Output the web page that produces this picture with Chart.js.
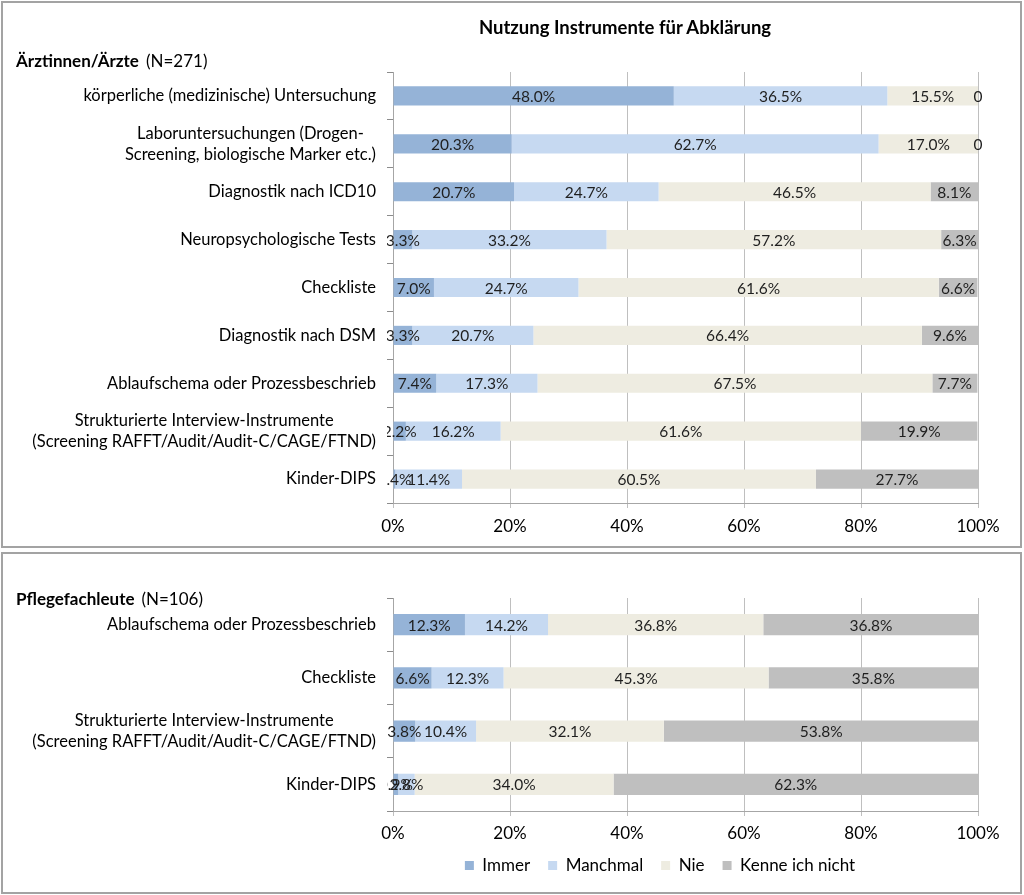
<!DOCTYPE html>
<html>
<head>
<meta charset="utf-8">
<script src="https://cdn.jsdelivr.net/npm/chart.js@4.4.0/dist/chart.umd.min.js"></script>
<style>
  body { margin:0; background:#fff; font-family:Lato, sans-serif; color:#000; }
  .panel { position:absolute; left:1px; width:1021px; border:2px solid #a3a3a3; box-sizing:border-box; }
  .holder { position:absolute; left:0; width:1024px; }
  #title { position:absolute; top:16px; left:0; width:1250px; text-align:center; font-weight:bold; font-size:18.5px; }
  .head { position:absolute; left:16px; font-size:17px; }
  .head b { margin-right:7px; }
</style>
</head>
<body>
<div class="panel" style="top:1px;height:547px"></div>
<div class="panel" style="top:552px;height:342px"></div>
<div class="holder" style="top:0;height:548px"><canvas id="top" width="1024" height="548"></canvas></div>
<div class="holder" style="top:552px;height:342px"><canvas id="bottom" width="1024" height="342"></canvas></div>
<div id="title">Nutzung Instrumente für Abklärung</div>
<div class="head" style="top:50px"><b>Ärztinnen/Ärzte</b>(N=271)</div>
<div class="head" style="top:588px"><b>Pflegefachleute</b>(N=106)</div>
<script>
const seriesNames = ['Immer', 'Manchmal', 'Nie', 'Kenne ich nicht'];
const seriesColors = ['#95b3d7', '#c6d9f1', '#eeece1', '#bfbfbf'];
const xTicks = ['0%', '20%', '40%', '60%', '80%', '100%'];

// Ärztinnen/Ärzte
const aerzteLabels = [
  ['körperliche (medizinische) Untersuchung'],
  ['Laboruntersuchungen (Drogen-', 'Screening, biologische Marker etc.)'],
  ['Diagnostik nach ICD10'],
  ['Neuropsychologische Tests'],
  ['Checkliste'],
  ['Diagnostik nach DSM'],
  ['Ablaufschema oder Prozessbeschrieb'],
  ['Strukturierte Interview-Instrumente', '(Screening RAFFT/Audit/Audit-C/CAGE/FTND)'],
  ['Kinder-DIPS']
];
const aerzteImmer    = [48.0, 20.3, 20.7, 3.3, 7.0, 3.3, 7.4, 2.2, 0.4];
const aerzteManchmal = [36.5, 62.7, 24.7, 33.2, 24.7, 20.7, 17.3, 16.2, 11.4];
const aerzteNie      = [15.5, 17.0, 46.5, 57.2, 61.6, 66.4, 67.5, 61.6, 60.5];
const aerzteKenne    = [0, 0, 8.1, 6.3, 6.6, 9.6, 7.7, 19.9, 27.7];

// Pflegefachleute
const pflegeLabels = [
  ['Ablaufschema oder Prozessbeschrieb'],
  ['Checkliste'],
  ['Strukturierte Interview-Instrumente', '(Screening RAFFT/Audit/Audit-C/CAGE/FTND)'],
  ['Kinder-DIPS']
];
const pflegeImmer    = [12.3, 6.6, 3.8, 0.9];
const pflegeManchmal = [14.2, 12.3, 10.4, 2.8];
const pflegeNie      = [36.8, 45.3, 32.1, 34.0];
const pflegeKenne    = [36.8, 35.8, 53.8, 62.3];

const FONT = 'Lato';

// category labels: block right aligned, lines centred on each other
const catLabels = {
  id: 'catLabels',
  afterDraw(chart) {
    const ctx = chart.ctx, y = chart.scales.y;
    ctx.save();
    ctx.font = '16.5px ' + FONT;
    ctx.fillStyle = '#000';
    ctx.textAlign = 'center';
    ctx.textBaseline = 'middle';
    chart.data.labels.forEach((lines, i) => {
      const yc = y.getPixelForTick(i);
      const w = Math.max(...lines.map(l => ctx.measureText(l).width));
      const cx = 376 - w / 2;
      const lh = 21;
      lines.forEach((l, k) => ctx.fillText(l, cx, yc + (k - (lines.length - 1) / 2) * lh));
    });
    ctx.restore();
  }
};

// value labels in the middle of each segment
const valLabels = {
  id: 'valLabels',
  afterDatasetsDraw(chart) {
    const ctx = chart.ctx, a = chart.chartArea;
    ctx.save();
    ctx.beginPath();
    ctx.rect(a.left - 6, a.top, a.right - a.left + 30, a.bottom - a.top);
    ctx.clip();
    ctx.font = '15.5px ' + FONT;
    ctx.fillStyle = '#1f1f1f';
    ctx.textAlign = 'center';
    ctx.textBaseline = 'middle';
    chart.data.datasets.forEach((ds, di) => {
      chart.getDatasetMeta(di).data.forEach((bar, i) => {
        const v = ds.data[i];
        const txt = v === 0 ? '0' : v.toFixed(1) + '%';
        ctx.fillText(txt, (bar.x + bar.base) / 2, bar.y + 1);
      });
    });
    ctx.restore();
  }
};

function makeChart(id, labels, values, legend, pad, axisH, tickPad) {
  new Chart(document.getElementById(id), {
    type: 'bar',
    data: {
      labels: labels,
      datasets: values.map((d, i) => ({
        label: seriesNames[i],
        data: d,
        backgroundColor: seriesColors[i],
        borderWidth: 0,
        barPercentage: 0.4,
        categoryPercentage: 1
      }))
    },
    options: {
      indexAxis: 'y',
      responsive: false,
      animation: false,
      layout: { padding: pad },
      plugins: {
        legend: {
          display: legend,
          position: 'bottom',
          labels: { boxWidth: 9, boxHeight: 9, padding: 18, color: '#000', font: { family: FONT, size: 17 } }
        },
        tooltip: { enabled: false }
      },
      scales: {
        x: {
          stacked: true, min: 0, max: 100,
          ticks: { stepSize: 20, callback: (v, i) => xTicks[i], color: '#000', padding: tickPad, font: { family: FONT, size: 17 } },
          grid: { color: '#bfbfbf', tickLength: 5 },
          border: { color: '#a6a6a6' },
          afterFit: s => { s.height = axisH; }
        },
        y: {
          stacked: true,
          ticks: { display: false },
          grid: { drawOnChartArea: false, tickLength: 6, color: '#8c8c8c' },
          border: { color: '#a6a6a6' },
          afterFit: s => { s.width = 393 - pad.left; }
        }
      }
    },
    plugins: [catLabels, valLabels]
  });
}

makeChart('top', aerzteLabels, [aerzteImmer, aerzteManchmal, aerzteNie, aerzteKenne], false,
  { left: 342, right: 46, top: 72, bottom: 5 }, 40, 8);
makeChart('bottom', pflegeLabels, [pflegeImmer, pflegeManchmal, pflegeNie, pflegeKenne], true,
  { left: 342, right: 46, top: 46, bottom: 10 }, 28, 7);
</script>
</body>
</html>
